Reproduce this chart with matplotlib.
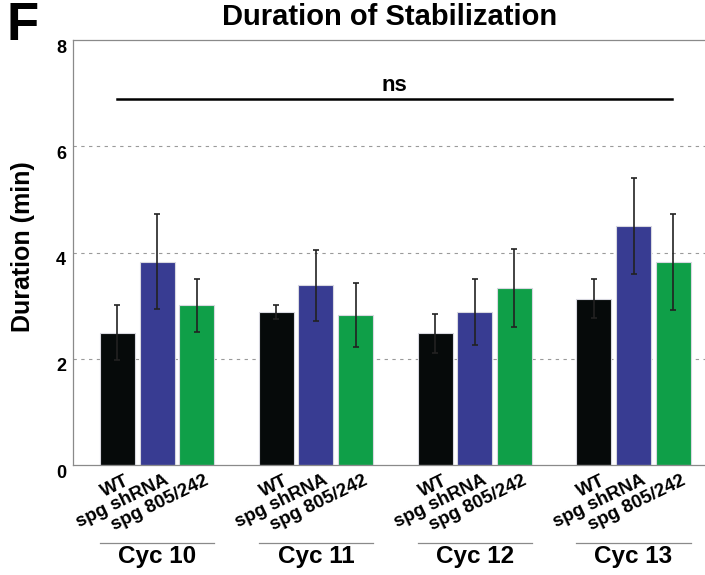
import matplotlib.pyplot as plt
import matplotlib.transforms as mtransforms
import numpy as np

plt.rcParams['font.family'] = ['Liberation Sans', 'DejaVu Sans']
plt.rcParams['font.weight'] = 'bold'

CYCLES = ["Cyc 10", "Cyc 11", "Cyc 12", "Cyc 13"]
GENOTYPES = ["WT", "spg shRNA", "spg 805/242"]
COLORS = ["#060a0a", "#383c92", "#0f9f48"]

# mean duration (min) per genotype, one value per cycle
WT_MEAN = [2.49, 2.88, 2.48, 3.13]
SHRNA_MEAN = [3.83, 3.38, 2.88, 4.50]
MUT_MEAN = [3.01, 2.83, 3.33, 3.82]

WT_ERR = [0.52, 0.13, 0.37, 0.37]
SHRNA_ERR = [0.90, 0.67, 0.62, 0.90]
MUT_ERR = [0.50, 0.60, 0.74, 0.90]

Y_TICKS = [0, 2, 4, 6, 8]

fig = plt.figure(figsize=(7.05, 5.75), dpi=100)
ax = fig.add_axes([0.1035, 0.1913, 0.8965, 0.7391])

x = np.arange(len(CYCLES))
width = 0.22
step = 0.25
means = [WT_MEAN, SHRNA_MEAN, MUT_MEAN]
errs = [WT_ERR, SHRNA_ERR, MUT_ERR]

# dashed grid behind bars
for yv in [2, 4, 6]:
    ax.axhline(yv, color="#9a9a9a", lw=0.8, ls=(0, (3, 4)), zorder=0)

for i in range(3):
    ax.bar(x + (i - 1) * step, means[i], width, color=COLORS[i],
           edgecolor="#d8d8e0", linewidth=0.8, zorder=2)
    ax.errorbar(x + (i - 1) * step, means[i], yerr=errs[i], fmt="none",
                ecolor="#222222", elinewidth=1.2, capsize=2, capthick=1.2, zorder=3)

ax.set_xlim(-0.53, 3.45)
ax.set_ylim(0, 8)

# ns bracket
ax.plot([-0.25, 3.24], [6.89, 6.89], color="black", lw=1.8, zorder=3)
ax.text(1.495, 6.95, "ns", ha="center", va="bottom", fontsize=16, fontweight="bold")

ax.spines["right"].set_visible(False)
for s in ["left", "top", "bottom"]:
    ax.spines[s].set_color("#8a8a8a")
    ax.spines[s].set_linewidth(0.9)

ax.set_yticks(Y_TICKS)
ax.set_yticklabels([str(v) for v in Y_TICKS], fontsize=13, fontweight="bold")
ax.tick_params(axis="y", length=0, pad=5)
offset = mtransforms.ScaledTranslation(0, -6 / 100, fig.dpi_scale_trans)
for lab in ax.get_yticklabels():
    lab.set_transform(lab.get_transform() + offset)

ax.set_xticks([])
fig.text(23 / 705, 1 - 247 / 575, "Duration (min)", rotation=90, ha="center",
         va="center", fontsize=18, fontweight="bold")

# rotated genotype labels and cycle labels
trans = mtransforms.blended_transform_factory(ax.transData, fig.transFigure)
for g in range(len(CYCLES)):
    for i, name in enumerate(GENOTYPES):
        xc = x[g] + (i - 1) * step + 0.045
        ax.text(xc, 1 - 472 / 575, name, transform=trans, rotation=26,
                rotation_mode="anchor", ha="right", va="top",
                fontsize=13.5, fontweight="bold")
    left = x[g] - step - width / 2
    right = x[g] + step + width / 2
    ax.plot([left, right], [1 - 543 / 575] * 2, transform=trans,
            color="#8a8a8a", lw=0.9, clip_on=False)
    ax.text(x[g], 1 - 557 / 575, CYCLES[g], transform=trans, ha="center",
            va="center", fontsize=17.5, fontweight="bold")

fig.text(390 / 705, 1 - 17 / 575, "Duration of Stabilization", ha="center",
         va="center", fontsize=21, fontweight="bold")
fig.text(6 / 705, 1 - 26 / 575, "F", ha="left", va="center", fontsize=38,
         fontweight="bold")

fig.savefig("out.png", dpi=100)
